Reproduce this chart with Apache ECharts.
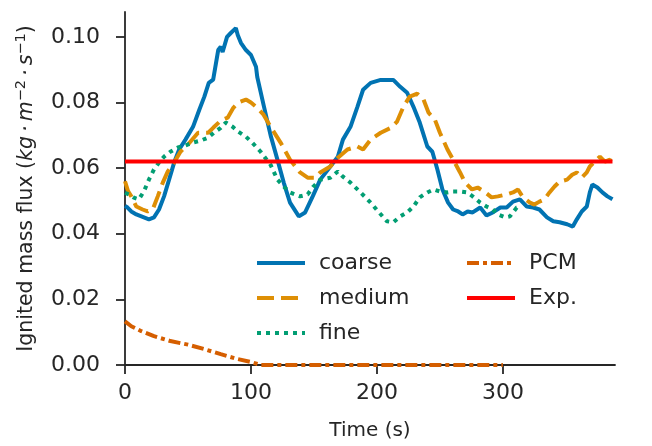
<!DOCTYPE html>
<html>
<head>
<meta charset="utf-8">
<script src="https://cdn.jsdelivr.net/npm/echarts@6/dist/echarts.min.js"></script>
<style>html,body{margin:0;padding:0;background:#fff}#c{width:652px;height:446px}</style>
</head>
<body>
<div id="c"></div>
<script>
// ---- data ----
const coarseT = [0,2,5,9,13,19,23,27,31,35,39,43,48,54,59,63,66.5,70,74,76,77.5,81,84,88,89.5,92,96,100,104,105,110,115.6,121,126,131,138,143,149,155,163,169,173,179,184.5,189,195,203,213,218.5,224,229,234,240,244,248,252,256.5,260.5,264.5,268,272,276,282,287,292,298,303,308,313.5,319,324,329,335,340,345,351,355.5,358.7,362.6,366.6,369,371,375,379,383,387];
const coarseY = [0.0485,0.048,0.0468,0.0459,0.0453,0.0444,0.045,0.0474,0.0514,0.0565,0.0617,0.0657,0.0687,0.0726,0.0778,0.0818,0.086,0.087,0.096,0.097,0.0954,0.100,0.1012,0.1027,0.1006,0.0982,0.096,0.0945,0.0909,0.0878,0.0793,0.070,0.0626,0.0556,0.0495,0.0453,0.0465,0.0514,0.0565,0.0605,0.0635,0.0687,0.0726,0.0787,0.0839,0.086,0.0869,0.0869,0.0848,0.083,0.0787,0.0739,0.0666,0.065,0.0596,0.0535,0.0495,0.0474,0.0468,0.0459,0.0468,0.0465,0.048,0.0456,0.0465,0.048,0.048,0.0498,0.0505,0.0483,0.048,0.0474,0.045,0.0438,0.0435,0.0429,0.0422,0.0444,0.0468,0.0483,0.0526,0.055,0.0541,0.0526,0.0514,0.0505];

const mediumT = [0,2.4,5,9,14,18,22,26,30,34,39,44,50,58,66,70,76,81.5,86,90,96,100,105,110,115.6,123.5,131,139,145,151,155,163,169,176.6,184.5,189,195,203,211,216,221,226,232,237,241,246,250,256,260.5,266,270,275.5,280,286,291,296,303,308,312,316,321.5,325,329,333,337,341,345,351,355,358.7,362.6,366.6,369,373,377,381,385,388];
const mediumY = [0.056,0.053,0.0514,0.0483,0.0474,0.0468,0.0474,0.0514,0.0556,0.059,0.0617,0.065,0.0672,0.0708,0.0708,0.0723,0.0745,0.0754,0.0784,0.080,0.0809,0.080,0.0784,0.0763,0.0726,0.0678,0.0626,0.0587,0.0571,0.0571,0.0587,0.0605,0.0632,0.0657,0.0666,0.0657,0.0687,0.0708,0.0723,0.0742,0.0787,0.0818,0.0827,0.0809,0.0769,0.0748,0.0708,0.0657,0.0626,0.0587,0.0556,0.0535,0.0541,0.0526,0.0511,0.0514,0.052,0.0526,0.0535,0.0511,0.0495,0.0489,0.0498,0.0505,0.0526,0.0544,0.0559,0.0565,0.058,0.0587,0.0571,0.0587,0.0605,0.062,0.0635,0.062,0.0626,0.0605];

const fineT = [0,3,7,11,15,19,23,27,31,36,42,48,54,60,66,70.5,76,80,85.5,90,96,101,107.7,115.6,121,126,131,139,145,149.6,155,163,169,173,179,187,195,201,208,213,218.5,224,229,234,240,245,250,256,260.5,266,271.6,276,282,287,292,296,302,305.6,308,311,313.5];
const fineY = [0.0525,0.052,0.051,0.0505,0.0529,0.0565,0.0596,0.0617,0.0635,0.065,0.0663,0.0669,0.0678,0.0684,0.0693,0.0708,0.0723,0.0739,0.0726,0.0711,0.0696,0.0678,0.065,0.061,0.0565,0.0544,0.0526,0.0514,0.052,0.0544,0.0565,0.0571,0.059,0.0574,0.0556,0.0526,0.0495,0.0468,0.0438,0.0435,0.0453,0.0465,0.0483,0.0511,0.0526,0.0535,0.0529,0.0526,0.0529,0.0529,0.0526,0.0514,0.0495,0.0483,0.0474,0.0459,0.045,0.0453,0.0465,0.048,0.0483];

const pcmT = [0,5,13,23,36,50,62.5,76,89.5,100,108,150,200,250,300];
const pcmY = [0.0133,0.0118,0.0103,0.0088,0.0073,0.0062,0.0049,0.0033,0.0018,0.0009,0,0,0,0,0];

const expT = [0,387];
const expY = [0.062,0.062];

const xTicks = [0,100,200,300];
const yTicks = [0,0.02,0.04,0.06,0.08,0.10];

// ---- chart ----
const FONT = 'DejaVu Sans';
const TXT = '#262626';
const zip = (t, y) => t.map((v, i) => [v, y[i]]);

const chart = echarts.init(document.getElementById('c'), null, {renderer: 'canvas'});
const legendText = {fontFamily: FONT, fontSize: 22, color: TXT, lineHeight: 24, padding: [0,0,0,9]};
const legendCommon = {orient: 'vertical', top: 246, itemWidth: 48, itemHeight: 14, itemGap: 11,
  textStyle: legendText, selectedMode: false, itemStyle: {opacity: 0},
  lineStyle: {width: 4, type: 'inherit', cap: 'butt'}};
chart.setOption({
  animation: false,
  backgroundColor: '#fff',
  grid: {left: 125, right: 37, top: 12, bottom: 80, containLabel: false},
  xAxis: {
    type: 'value', min: 0, max: 389,
    name: 'Time (s)', nameLocation: 'middle', nameGap: 56,
    nameTextStyle: {fontFamily: FONT, fontSize: 20, color: TXT},
    axisLine: {lineStyle: {color: TXT, width: 1.8}},
    axisTick: {show: true, length: 9, lineStyle: {color: TXT, width: 1.8}, customValues: xTicks},
    axisLabel: {fontFamily: FONT, fontSize: 22, color: TXT, margin: 17, customValues: xTicks},
    splitLine: {show: false}
  },
  yAxis: {
    type: 'value', min: 0, max: 0.1076,
    name: 'Ignited mass flux ({it|kg\u2009·\u2009m}{sup|\u22122}{it|\u2009·\u2009s}{sup|\u22121})',
    nameLocation: 'middle', nameGap: 84,
    nameTextStyle: {fontFamily: FONT, fontSize: 20.5, color: TXT, lineHeight: 26,
      rich: {
        it: {fontFamily: FONT, fontSize: 20.5, fontStyle: 'italic', color: TXT, lineHeight: 26},
        sup: {fontFamily: FONT, fontSize: 14.5, color: TXT, verticalAlign: 'top', lineHeight: 14}
      }},
    axisLine: {show: true, lineStyle: {color: TXT, width: 1.8}},
    axisTick: {show: true, length: 9, lineStyle: {color: TXT, width: 1.8}, customValues: yTicks},
    axisLabel: {fontFamily: FONT, fontSize: 22, color: TXT, margin: 25, customValues: yTicks,
      formatter: v => v.toFixed(2)},
    splitLine: {show: false}
  },
  legend: [
    Object.assign({data: ['coarse','medium','fine'], left: 250}, legendCommon),
    Object.assign({data: ['PCM','Exp.'], left: 460}, legendCommon)
  ],
  series: [
    {name: 'coarse', type: 'line', data: zip(coarseT, coarseY), showSymbol: false, symbol: 'none',
     lineStyle: {color: '#0173b2', width: 4}, itemStyle: {color: '#0173b2'}, z: 2},
    {name: 'medium', type: 'line', data: zip(mediumT, mediumY), showSymbol: false, symbol: 'none',
     lineStyle: {color: '#de8f05', width: 4, type: [17, 7], cap: 'butt'}, itemStyle: {color: '#de8f05'}, z: 3},
    {name: 'fine', type: 'line', data: zip(fineT, fineY), showSymbol: false, symbol: 'none',
     lineStyle: {color: '#029e73', width: 4, type: [4, 5], cap: 'butt'}, itemStyle: {color: '#029e73'}, z: 4},
    {name: 'PCM', type: 'line', data: zip(pcmT, pcmY), showSymbol: false, symbol: 'none',
     lineStyle: {color: '#d55e00', width: 4, type: [12, 4, 4, 4], cap: 'butt'}, itemStyle: {color: '#d55e00'}, z: 5},
    {name: 'Exp.', type: 'line', data: zip(expT, expY), showSymbol: false, symbol: 'none',
     lineStyle: {color: '#ff0000', width: 4}, itemStyle: {color: '#ff0000'}, z: 6}
  ]
});
</script>
</body>
</html>
